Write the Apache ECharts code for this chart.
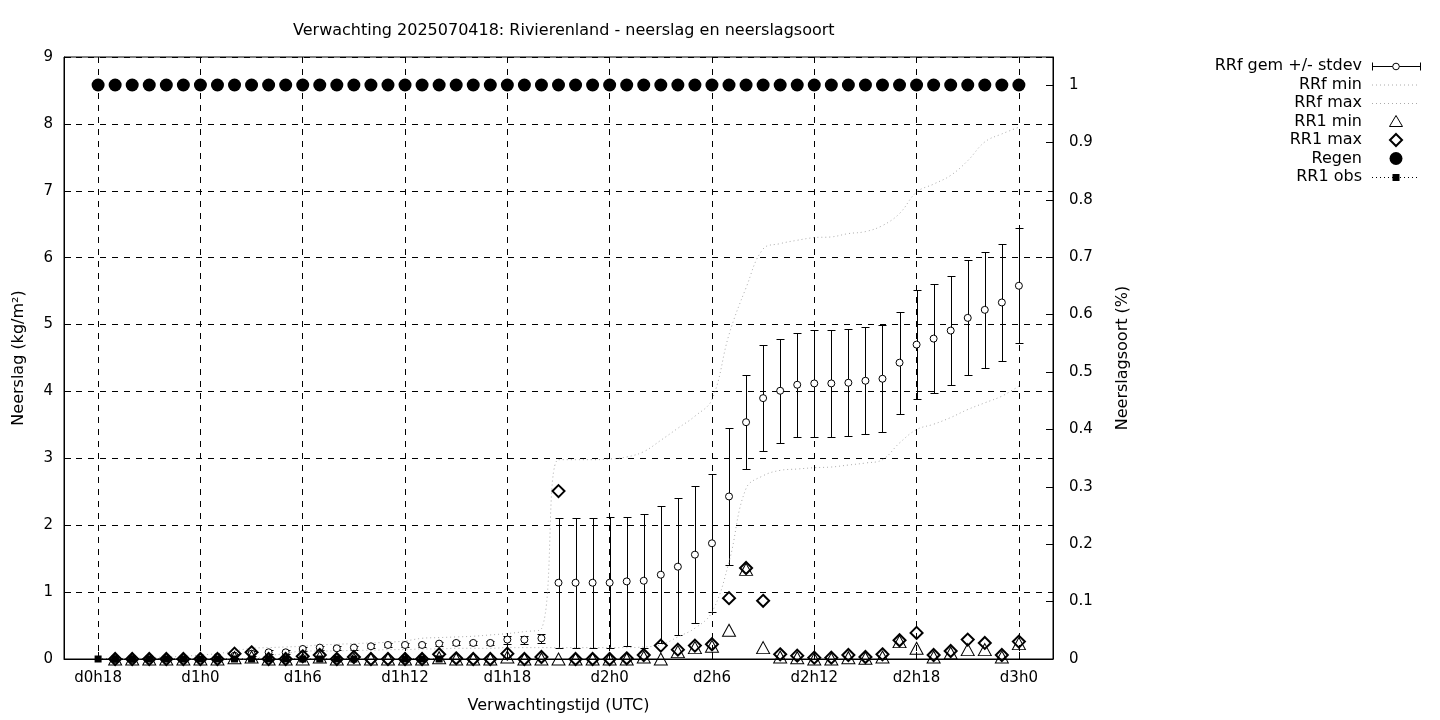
<!DOCTYPE html>
<html><head><meta charset="utf-8">
<script src="https://cdn.jsdelivr.net/npm/echarts@6/dist/echarts.min.js"></script>
<style>html,body{margin:0;padding:0;background:#fff}#c{width:1440px;height:720px}</style>
</head><body><div id="c"></div>
<script>
// x axis: hourly categories d0h16 .. d3h2 (axis padding of 2 hours on each side)
const categories = [];
for (let h = 16; h <= 74; h++) categories.push('d' + Math.floor(h / 24) + 'h' + (h % 24));
const tickLabels = ['d0h18','d1h0','d1h6','d1h12','d1h18','d2h0','d2h6','d2h12','d2h18','d3h0'];
// data hours d0h18 .. d3h0 (55 points)
const dataHours = categories.slice(2, 57);

// RRf gem (mean) and stdev, per hour d0h18..d3h0
const rrfMean = [null,0.00,0.00,0.01,0.01,0.01,0.02,0.03,0.05,0.08,0.10,0.10,0.15,0.17,0.16,0.17,0.19,0.21,0.21,0.21,0.23,0.24,0.24,0.24,0.29,0.29,0.31,
  1.14,1.14,1.14,1.14,1.16,1.17,1.26,1.38,1.56,1.73,2.43,3.54,3.90,4.01,4.10,4.12,4.12,4.13,4.16,4.19,4.43,4.70,4.79,4.91,5.10,5.22,5.33,5.58];
const rrfStd = [null,0.01,0.01,0.01,0.01,0.01,0.01,0.02,0.03,0.04,0.03,0.03,0.03,0.03,0.03,0.03,0.03,0.03,0.03,0.03,0.03,0.03,0.03,0.03,0.06,0.06,0.07,
  0.97,0.97,0.97,0.98,0.97,1.00,1.02,1.02,1.02,1.03,1.03,0.70,0.79,0.78,0.78,0.80,0.80,0.80,0.80,0.80,0.76,0.81,0.81,0.81,0.86,0.87,0.87,0.86];
const rrfMin = [null,0,0,0,0,0,0,0,0,0,0.05,0.08,0.12,0.12,0.12,0.13,0.13,0.14,0.14,0.15,0.15,0.16,0.16,0.16,0.17,0.17,0.17,
  0.17,0.17,0.17,0.17,0.17,0.18,0.21,0.33,0.46,0.70,1.45,2.55,2.74,2.82,2.84,2.86,2.87,2.90,2.93,2.98,3.23,3.43,3.51,3.61,3.73,3.83,3.93,4.08];
const rrfMax = [null,0.01,0.01,0.02,0.03,0.04,0.06,0.08,0.12,0.16,0.17,0.18,0.19,0.21,0.22,0.23,0.24,0.25,0.27,0.31,0.32,0.33,0.34,0.36,0.38,0.41,0.45,
  2.98,2.98,2.98,2.99,3.02,3.10,3.27,3.45,3.63,3.88,4.85,5.55,6.13,6.21,6.26,6.30,6.31,6.36,6.39,6.48,6.66,6.98,7.10,7.23,7.45,7.73,7.85,7.95];
const rr1Min = [null,0,0,0,0,0,0,0,0.02,0.03,0,0,0,0.03,0,0,0,0,0,0,0.02,0,0,0,0.03,0,0,
  0,0,0,0,0,0.03,0,0.11,0.17,0.19,0.43,1.34,0.17,0.03,0.02,0,0,0.02,0.01,0.03,0.26,0.16,0.03,0.09,0.14,0.14,0.03,0.23];
const rr1Max = [null,0,0,0,0,0,0,0,0.08,0.10,0,0,0.04,0.06,0,0.03,0,0,0,0,0.07,0.01,0,0,0.08,0,0.03,
  2.51,0,0,0,0.01,0.06,0.20,0.14,0.20,0.22,0.91,1.36,0.87,0.07,0.05,0.02,0.02,0.06,0.03,0.07,0.28,0.39,0.06,0.12,0.29,0.24,0.06,0.26];
const regen = [1,1,1,1,1,1,1,1,1,1,1,1,1,1,1,1,1,1,1,1,1,1,1,1,1,1,1,1,1,1,1,1,1,1,1,1,1,1,1,1,1,1,1,1,1,1,1,1,1,1,1,1,1,1,1];
// observed hourly precipitation (only available for the first hours; null = no observation)
const rr1Obs = [0,0,0,0,0,0,0,0,0,0,0,0,0,0,0,0,null,null,0,0,0];

const FONT = 'DejaVu Sans';
const pairs = arr => arr.map((v, i) => [dataHours[i], v]).filter(p => p[1] !== null);
const isTick = (idx) => tickLabels.indexOf(categories[idx]) >= 0;

const errData = rrfMean.map((m, i) => m === null ? null :
  [categories.indexOf(dataHours[i]), Math.max(0, m - rrfStd[i]), m + rrfStd[i]]).filter(Boolean);

const chart = echarts.init(document.getElementById('c'), null, {renderer: 'canvas'});

const LX1 = 1372, LX2 = 1420, LXC = 1396, LTX = 1362;
const ly = [66, 84.5, 103, 121.5, 140, 158.5, 177];
const legendNames = ['RRf gem +/- stdev','RRf min','RRf max','RR1 min','RR1 max','Regen','RR1 obs'];
const graphic = [];
legendNames.forEach((n, i) => graphic.push({type:'text', x: LTX, y: ly[i], style:{text:n, fill:'#000', font:'16px ' + FONT, textAlign:'right', textVerticalAlign:'middle'}}));
graphic.push({type:'line', shape:{x1:LX1,y1:ly[0]+0.5,x2:LX2,y2:ly[0]+0.5}, style:{stroke:'#000',lineWidth:1}});
graphic.push({type:'line', shape:{x1:LX1+0.5,y1:ly[0]-3.5,x2:LX1+0.5,y2:ly[0]+4.5}, style:{stroke:'#000',lineWidth:1}});
graphic.push({type:'line', shape:{x1:LX2+0.5,y1:ly[0]-3.5,x2:LX2+0.5,y2:ly[0]+4.5}, style:{stroke:'#000',lineWidth:1}});
graphic.push({type:'circle', shape:{cx:LXC,cy:ly[0]+0.5,r:3.3}, style:{fill:'#fff',stroke:'#000',lineWidth:1}});
graphic.push({type:'line', shape:{x1:LX1,y1:ly[1]+0.5,x2:LX2,y2:ly[1]+0.5}, style:{stroke:'#aaa',lineWidth:1,lineDash:[1,3]}});
graphic.push({type:'line', shape:{x1:LX1,y1:ly[2]+0.5,x2:LX2,y2:ly[2]+0.5}, style:{stroke:'#aaa',lineWidth:1,lineDash:[1,3]}});
graphic.push({type:'polygon', shape:{points:[[LXC,ly[3]-6],[LXC+6.5,ly[3]+5],[LXC-6.5,ly[3]+5]]}, style:{fill:'none',stroke:'#000',lineWidth:1}});
graphic.push({type:'polygon', shape:{points:[[LXC,ly[4]-6],[LXC+6,ly[4]],[LXC,ly[4]+6],[LXC-6,ly[4]]]}, style:{fill:'none',stroke:'#000',lineWidth:2}});
graphic.push({type:'circle', shape:{cx:LXC,cy:ly[5],r:6.5}, style:{fill:'#000'}});
graphic.push({type:'line', shape:{x1:LX1,y1:ly[6]+0.5,x2:LX2,y2:ly[6]+0.5}, style:{stroke:'#000',lineWidth:1,lineDash:[1,3]}});
graphic.push({type:'rect', shape:{x:LXC-3.5,y:ly[6]-3,width:7,height:7}, style:{fill:'#000'}});

const snap = v => Math.round(v) + 0.5;

const option = {
  animation: false,
  backgroundColor: '#fff',
  textStyle: {fontFamily: FONT},
  title: {
    text: 'Verwachting 2025070418: Rivierenland - neerslag en neerslagsoort',
    left: 288, top: 18,
    textStyle: {fontFamily: FONT, fontSize: 16, fontWeight: 'normal', color: '#000'}
  },
  grid: {left: 64, top: 57, width: 989, height: 602, show: true, borderColor: '#000', borderWidth: 1, backgroundColor: 'transparent'},
  graphic: graphic,
  xAxis: {
    type: 'category', data: categories, boundaryGap: false,
    name: 'Verwachtingstijd (UTC)', nameLocation: 'middle', nameGap: 39,
    nameTextStyle: {fontFamily: FONT, fontSize: 16, color: '#000'},
    axisLine: {lineStyle: {color: '#000', width: 1}},
    axisTick: {inside: true, length: 7, interval: (i) => isTick(i), lineStyle: {color: '#000'}},
    axisLabel: {interval: (i) => isTick(i), margin: 12, fontFamily: FONT, fontSize: 15, color: '#000'},
    splitLine: {show: true, interval: (i) => isTick(i), lineStyle: {color: '#000', type: [6, 6], width: 1}}
  },
  yAxis: [{
    type: 'value', min: 0, max: 9, interval: 1, position: 'left',
    name: 'Neerslag (kg/m²)', nameLocation: 'middle', nameGap: 37, nameRotate: 90,
    nameTextStyle: {fontFamily: FONT, fontSize: 16, color: '#000'},
    axisLine: {show: true, lineStyle: {color: '#000'}},
    axisTick: {show: true, inside: true, length: 7, lineStyle: {color: '#000'}},
    axisLabel: {margin: 11, fontFamily: FONT, fontSize: 15, color: '#000'},
    splitLine: {show: true, lineStyle: {color: '#000', type: [6, 6], width: 1}}
  }, {
    type: 'value', min: 0, max: 1.0488, interval: 0.1, position: 'right',
    name: 'Neerslagsoort (%)', nameLocation: 'middle', nameGap: 62, nameRotate: 90,
    nameTextStyle: {fontFamily: FONT, fontSize: 16, color: '#000'},
    axisLine: {show: true, lineStyle: {color: '#000'}},
    axisTick: {show: true, inside: true, length: 7, lineStyle: {color: '#000'}},
    axisLabel: {margin: 16, fontFamily: FONT, fontSize: 15, color: '#000',
      formatter: v => v > 1.0001 ? '' : String(Math.round(v * 10) / 10)},
    splitLine: {show: false}
  }],
  series: [
    {
      name: 'RRf gem +/- stdev (bars)', type: 'custom', silent: true, clip: true, z: 2,
      data: errData,
      encode: {x: 0, y: [1, 2]},
      renderItem: (params, api) => {
        const x = api.value(0);
        const pLo = api.coord([x, api.value(1)]);
        const pHi = api.coord([x, api.value(2)]);
        const w = 4;
        const cx = snap(pLo[0]), yl = snap(pLo[1]), yh = snap(pHi[1]);
        const st = {stroke: '#000', lineWidth: 1, fill: null};
        return {type: 'group', children: [
          {type: 'line', shape: {x1: cx, y1: yl, x2: cx, y2: yh}, style: st},
          {type: 'line', shape: {x1: cx - w, y1: yl, x2: cx + w, y2: yl}, style: st},
          {type: 'line', shape: {x1: cx - w, y1: yh, x2: cx + w, y2: yh}, style: st}
        ]};
      }
    },
    {
      name: 'RRf gem', type: 'scatter', silent: true, z: 3,
      data: pairs(rrfMean), symbol: 'circle', symbolSize: 7,
      itemStyle: {color: '#fff', borderColor: '#000', borderWidth: 1, opacity: 1}
    },
    {
      name: 'RRf min', type: 'line', silent: true, z: 3, showSymbol: false, smooth: 0.4,
      data: pairs(rrfMin), lineStyle: {color: '#aaa', width: 1, type: [1, 3]}
    },
    {
      name: 'RRf max', type: 'line', silent: true, z: 3, showSymbol: false, smooth: 0.4,
      data: pairs(rrfMax), lineStyle: {color: '#aaa', width: 1, type: [1, 3]}
    },
    {
      name: 'RR1 min', type: 'scatter', silent: true, z: 4,
      data: pairs(rr1Min), symbol: 'triangle', symbolSize: [13, 12],
      itemStyle: {color: 'rgba(0,0,0,0)', borderColor: '#000', borderWidth: 1, opacity: 1}
    },
    {
      name: 'RR1 max', type: 'scatter', silent: true, z: 5,
      data: pairs(rr1Max), symbol: 'diamond', symbolSize: [12, 12],
      itemStyle: {color: 'rgba(0,0,0,0)', borderColor: '#000', borderWidth: 2, opacity: 1}
    },
    {
      name: 'Regen', type: 'scatter', silent: true, z: 6, yAxisIndex: 1,
      data: pairs(regen), symbol: 'circle', symbolSize: 13,
      itemStyle: {color: '#000', opacity: 1}
    },
    {
      name: 'RR1 obs', type: 'line', silent: true, z: 7, connectNulls: false,
      data: rr1Obs.map((v, i) => [dataHours[i], v]), symbol: 'rect', symbolSize: 7, showSymbol: true,
      itemStyle: {color: '#000', opacity: 1}, lineStyle: {color: '#000', width: 1, type: [1, 3]}
    }
  ]
};
chart.setOption(option);
</script>
</body></html>
